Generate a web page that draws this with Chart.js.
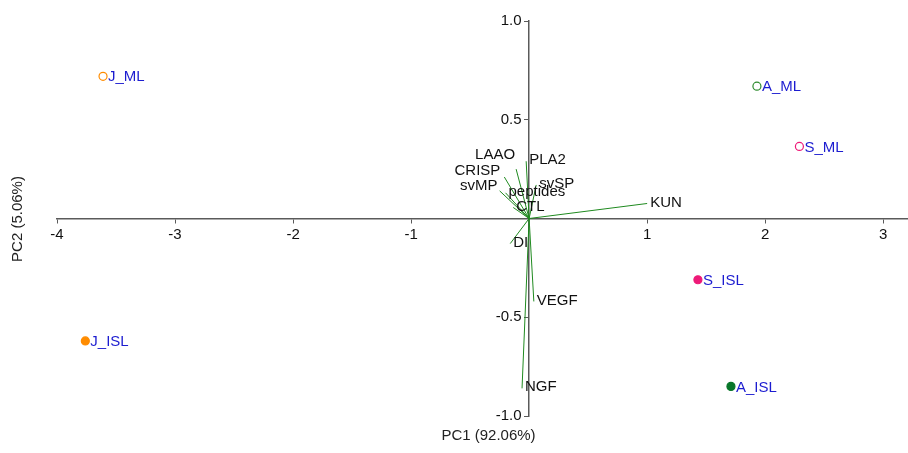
<!DOCTYPE html>
<html>
<head>
  <title>PCA biplot</title>
  <script src="https://cdn.jsdelivr.net/npm/chart.js"></script>
  <style>
    body { margin: 0; background: #fff; }
    #wrap { width: 908px; height: 453px; }
  </style>
</head>
<body>
  <div id="wrap"><canvas id="pca"></canvas></div>

  <script>
    // samples (scores)
    const sampleNames = ['J_ML', 'J_ISL', 'A_ML', 'A_ISL', 'S_ML', 'S_ISL'];
    const samplePC1 = [-3.61, -3.76, 1.93, 1.71, 2.29, 1.43];
    const samplePC2 = [0.72, -0.62, 0.67, -0.85, 0.365, -0.31];

    // variables (loadings)
    const varNames = ['KUN', 'PLA2', 'LAAO', 'CRISP', 'svMP', 'svSP', 'peptides', 'CTL', 'DI', 'VEGF', 'NGF'];
    const varPC1 = [1.00, -0.025, -0.11, -0.21, -0.25, 0.06, -0.2, -0.135, -0.16, 0.04, -0.06];
    const varPC2 = [0.076, 0.29, 0.25, 0.21, 0.14, 0.17, 0.13, 0.056, -0.127, -0.42, -0.86];

    const xTicks = [-4, -3, -2, -1, 1, 2, 3];
    const yTicks = [-1, -0.5, 0.5, 1];

    // styles
    const sampleColors = ['#ff8c00', '#ff8c00', '#2e8b2e', '#08762a', '#ee1a78', '#ee1a78'];
    const sampleFilled = [false, true, false, true, false, true];
    const labelBlue = '#1c1cd0';
    const vecColor = '#1f8a1f';
    const font = "'Liberation Sans', Arial, sans-serif";
    // where a variable label sits relative to the arrow tip
    const leftLabels = { LAAO: [-1, -14], CRISP: [-4, -6], svMP: [-2, -5] };

    const datasets = [];
    varNames.forEach((name, i) => {
      datasets.push({
        type: 'line',
        label: name,
        data: [{ x: 0, y: 0 }, { x: varPC1[i], y: varPC2[i] }],
        borderColor: vecColor,
        borderWidth: 1,
        pointRadius: 0,
        fill: false,
        tension: 0
      });
    });
    datasets.push({
      type: 'scatter',
      label: 'samples',
      data: sampleNames.map((n, i) => ({ x: samplePC1[i], y: samplePC2[i] })),
      pointRadius: 4,
      pointBorderWidth: 1.2,
      pointBorderColor: sampleColors,
      pointBackgroundColor: sampleColors.map((c, i) => sampleFilled[i] ? c : '#ffffff')
    });

    const labelPlugin = {
      id: 'labels',
      afterDatasetsDraw(chart) {
        const ctx = chart.ctx;
        ctx.save();
        ctx.font = '15px ' + font;
        ctx.textBaseline = 'middle';

        // variable names at arrow tips
        varNames.forEach((name, i) => {
          const tip = chart.getDatasetMeta(i).data[1];
          ctx.fillStyle = '#111';
          if (leftLabels[name]) {
            ctx.textAlign = 'right';
            ctx.fillText(name, tip.x + leftLabels[name][0], tip.y + leftLabels[name][1]);
          } else {
            ctx.textAlign = 'left';
            ctx.fillText(name, tip.x + 3, tip.y - 1);
          }
        });

        // sample names
        const pts = chart.getDatasetMeta(varNames.length).data;
        ctx.textAlign = 'left';
        ctx.fillStyle = labelBlue;
        pts.forEach((p, i) => ctx.fillText(sampleNames[i], p.x + 5, p.y + 1));

        // axis titles
        const area = chart.chartArea;
        ctx.fillStyle = '#222';
        ctx.textAlign = 'center';
        ctx.fillText('PC1 (92.06%)', (area.left + area.right) / 2 + 6, 436);
        ctx.translate(18, 219);
        ctx.rotate(-Math.PI / 2);
        ctx.fillText('PC2 (5.06%)', 0, 0);
        ctx.restore();
      }
    };

    const axisStyle = {
      border: { display: true, color: '#5a5a5a', width: 1.5 },
      grid: { drawOnChartArea: false, drawTicks: true, tickLength: 4, color: '#5a5a5a', lineWidth: 1 }
    };

    // keep the centred axes from taking any room in the layout
    const noRoom = (s) => {
      if (s.isHorizontal()) s.height = 0; else s.width = 0;
      s.paddingLeft = s.paddingRight = s.paddingTop = s.paddingBottom = 0;
    };

    new Chart(document.getElementById('pca'), {
      type: 'scatter',
      data: { datasets },
      options: {
        responsive: true,
        maintainAspectRatio: false,
        animation: false,
        layout: { autoPadding: false, padding: { left: 57, right: 0, top: 21, bottom: 37 } },
        plugins: { legend: { display: false }, tooltip: { enabled: false } },
        scales: {
          x: {
            type: 'linear',
            min: -4,
            max: 3.21,
            position: { y: 0 },
            ...axisStyle,
            afterBuildTicks: (s) => { s.ticks = xTicks.map(v => ({ value: v })); },
            afterFit: noRoom,
            ticks: {
              padding: 3,
              color: '#111',
              font: { family: font, size: 15 },
              maxRotation: 0,
              autoSkip: false,
              callback: (v) => String(v)
            }
          },
          y: {
            type: 'linear',
            min: -1,
            max: 1,
            position: { x: 0 },
            ...axisStyle,
            afterBuildTicks: (s) => { s.ticks = yTicks.map(v => ({ value: v })); },
            afterFit: noRoom,
            ticks: {
              padding: 2,
              color: '#111',
              font: { family: font, size: 15 },
              autoSkip: false,
              // trailing space keeps the label clear of the tick mark
              callback: (v) => v.toFixed(1) + '\u2002'
            }
          }
        }
      },
      plugins: [labelPlugin]
    });
  </script>
</body>
</html>
